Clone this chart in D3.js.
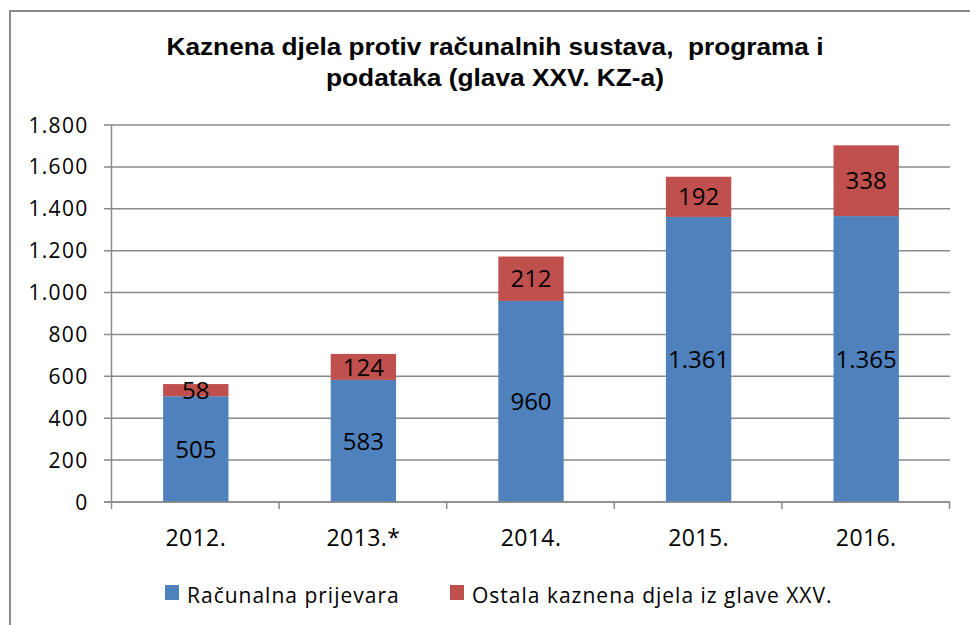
<!DOCTYPE html>
<html>
<head>
<meta charset="utf-8">
<script src="https://cdn.jsdelivr.net/npm/d3@7"></script>
<style>
  html, body { margin: 0; padding: 0; background: #fff; }
  svg text { white-space: pre; }
</style>
</head>
<body>
<svg id="chart" width="970" height="625"></svg>
<script>
const categories = ["2012.", "2013.*", "2014.", "2015.", "2016."];
const racunalnaPrijevara = [505, 583, 960, 1361, 1365];
const ostalaDjela = [58, 124, 212, 192, 338];
const seriesNames = ["Računalna prijevara", "Ostala kaznena djela iz glave XXV."];
const seriesColors = ["#4F81BD", "#C0504D"];
const yTicks = [0, 200, 400, 600, 800, 1000, 1200, 1400, 1600, 1800];
const titleLines = ["Kaznena djela protiv računalnih sustava,  programa i", "podataka (glava XXV. KZ-a)"];

(function () {
const svg = d3.select("#chart");
const gridColor = "#8a8a8a";
const numFont = "'Open Sans', 'Noto Sans', sans-serif";

// border
svg.append("rect").attr("x", 10).attr("y", 11).attr("width", 980).attr("height", 640)
  .attr("fill", "none").attr("stroke", gridColor).attr("stroke-width", 2);

// title
const titleWidths = [657, 338];
const titleBase = [55, 86];
titleLines.forEach((t, i) => {
  svg.append("text").attr("x", 495).attr("y", titleBase[i])
    .attr("text-anchor", "middle")
    .attr("font-family", "'Liberation Sans', Arial, sans-serif")
    .attr("font-weight", "bold").attr("font-size", 24)
    .attr("textLength", titleWidths[i]).attr("lengthAdjust", "spacingAndGlyphs")
    .attr("fill", "#000").text(t);
});

const pLeft = 112, pRight = 950, pTop = 125, pBottom = 502;
const x = d3.scaleBand().domain(categories).range([pLeft, pRight]).padding(0);
const y = d3.scaleLinear().domain([0, 1800]).range([pBottom, pTop]);

// gridlines + y ticks
svg.append("g").selectAll("line").data(yTicks).join("line")
  .attr("x1", pLeft - 8).attr("x2", pRight)
  .attr("y1", d => y(d)).attr("y2", d => y(d))
  .attr("stroke", gridColor).attr("stroke-width", 1.5);

const fmt = d3.formatLocale({decimal: ",", thousands: ".", grouping: [3], currency: ["", ""]}).format(",d");

svg.append("g").selectAll("text").data(yTicks).join("text")
  .attr("x", 88.5).attr("y", d => y(d)).attr("dy", "0.36em")
  .attr("text-anchor", "end").attr("font-family", numFont).attr("font-size", 21)
  .attr("letter-spacing", 1.3)
  .attr("fill", "#000").text(d => fmt(d));

// y axis line
svg.append("line").attr("x1", pLeft - 0.5).attr("x2", pLeft - 0.5)
  .attr("y1", pTop).attr("y2", pBottom)
  .attr("stroke", gridColor).attr("stroke-width", 1.5);

// x tick marks at band boundaries
const bounds = categories.map(c => x(c)).concat([x(categories[categories.length - 1]) + x.bandwidth()]);
svg.append("g").selectAll("line").data(bounds).join("line")
  .attr("x1", d => d - 0.5).attr("x2", d => d - 0.5)
  .attr("y1", pBottom).attr("y2", pBottom + 7)
  .attr("stroke", gridColor).attr("stroke-width", 1.5);

// bars
const barW = x.bandwidth() * 0.39;
const barOff = (x.bandwidth() - barW) / 2;
const stackData = categories.map((c, i) => ({c, a: racunalnaPrijevara[i], b: ostalaDjela[i]}));

const g = svg.append("g");
stackData.forEach(d => {
  const bx = x(d.c) + barOff;
  g.append("rect").attr("x", bx).attr("width", barW)
    .attr("y", y(d.a)).attr("height", y(0) - y(d.a))
    .attr("fill", seriesColors[0]);
  g.append("rect").attr("x", bx).attr("width", barW)
    .attr("y", y(d.a + d.b)).attr("height", y(d.a) - y(d.a + d.b))
    .attr("fill", seriesColors[1]);
  g.append("text").attr("x", bx + barW / 2).attr("y", y(d.a / 2)).attr("dy", "0.36em")
    .attr("text-anchor", "middle").attr("font-family", numFont).attr("font-size", 24)
    .attr("fill", "#000").text(fmt(d.a));
  g.append("text").attr("x", bx + barW / 2).attr("y", y(d.a + d.b / 2)).attr("dy", "0.36em")
    .attr("text-anchor", "middle").attr("font-family", numFont).attr("font-size", 24)
    .attr("fill", "#000").text(fmt(d.b));
});

// x axis line
svg.append("line").attr("x1", pLeft - 8).attr("x2", pRight)
  .attr("y1", pBottom).attr("y2", pBottom)
  .attr("stroke", gridColor).attr("stroke-width", 1.5);

// x labels
svg.append("g").selectAll("text").data(categories).join("text")
  .attr("x", d => x(d) + x.bandwidth() / 2).attr("y", 546)
  .attr("text-anchor", "middle").attr("font-family", numFont).attr("font-size", 23)
  .attr("letter-spacing", 0.4)
  .attr("fill", "#000").text(d => d);

// legend
const legX = [165, 450];
seriesNames.forEach((n, i) => {
  svg.append("rect").attr("x", legX[i]).attr("y", 585).attr("width", 14).attr("height", 15)
    .attr("fill", seriesColors[i]);
  svg.append("text").attr("x", legX[i] + 22).attr("y", 603)
    .attr("font-family", numFont).attr("font-size", 21)
    .attr("letter-spacing", 1)
    .attr("fill", "#000").text(n);
});
})();
</script>
</body>
</html>
